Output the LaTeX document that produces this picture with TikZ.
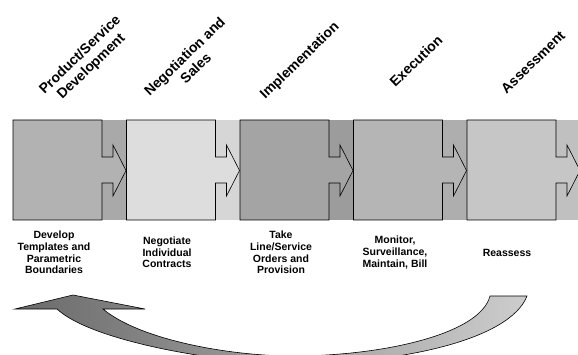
\documentclass[tikz,border=0pt]{standalone}
\usepackage{fontspec}
\setmainfont{Liberation Sans}
\usepackage{xcolor}
\usepackage{tikz}
\usetikzlibrary{shadings}

\definecolor{boxA}{HTML}{B2B2B2}
\definecolor{stripA}{HTML}{A9A9A9}
\definecolor{boxB}{HTML}{DDDDDD}
\definecolor{stripB}{HTML}{D6D6D6}
\definecolor{boxC}{HTML}{A4A4A4}
\definecolor{stripC}{HTML}{9C9C9C}
\definecolor{boxD}{HTML}{B5B5B5}
\definecolor{stripD}{HTML}{AEAEAE}
\definecolor{boxE}{HTML}{C6C6C6}
\definecolor{stripE}{HTML}{C0C0C0}
\definecolor{tailL}{RGB}{106,106,106}
\definecolor{tailR}{RGB}{205,205,205}

\begin{document}
\begin{tikzpicture}[x=1pt,y=-1pt,
    phase/.style={font=\bfseries\fontsize{14}{16}\selectfont, rotate=44, align=center},
    task/.style={font=\bfseries\fontsize{10.5}{11.7}\selectfont, align=center},
    outline/.style={draw=black, line width=0.6pt}]
    \useasboundingbox (0,0) rectangle (578,355);
    \clip (0,0) rectangle (578,355);
    % stages with their notched arrows
    \foreach \l/\cbox/\cstrip in {13/boxA/stripA, 126.5/boxB/stripB, 240/boxC/stripC, 353.5/boxD/stripD, 467/boxE/stripE}{
        \fill[\cstrip] (\l,120) rectangle (\l+113.5,220);
        \draw[outline, fill=\cbox] (\l,120) -- (\l+89,120) -- (\l+89,157) -- (\l+100,157) -- (\l+100,145)
            -- (\l+113,170.5) -- (\l+100,196) -- (\l+100,183) -- (\l+89,183) -- (\l+89,220) -- (\l,220) -- cycle;
    }
    \node[phase] (pdev) at (86,61) {Product/Service\\Development};
    \node[phase] (nego) at (190,62) {Negotiation and\\Sales};
    \node[phase] (impl) at (300,61) {Implementation};
    \node[phase] (exec) at (416,61) {Execution};
    \node[phase] (asse) at (533,62) {Assessment};
    \node[task] (dev) at (54,252.5) {Develop\\Templates and\\Parametric\\Boundaries};
    \node[task] (neg) at (167,252.5) {Negotiate\\Individual\\Contracts};
    \node[task] (take) at (281,252.5) {Take\\Line/Service\\Orders and\\Provision};
    \node[task] (mon) at (395,252.5) {Monitor,\\Surveillance,\\Maintain, Bill};
    \node[task] (reas) at (507,252.5) {Reassess};
    % feedback arrow
    \draw[line width=0.6pt, left color=tailL, right color=tailR]
        (73,295) -- (145,309) -- (103,309) .. controls (140,340) and (230,356) .. (293,356)
        .. controls (380,356) and (480,335) .. (490,296) -- (527,296)
        .. controls (510,340) and (400,364) .. (290,364) .. controls (210,362) and (90,340) .. (57,309)
        -- (15,309) -- cycle;
\end{tikzpicture}
\end{document}
